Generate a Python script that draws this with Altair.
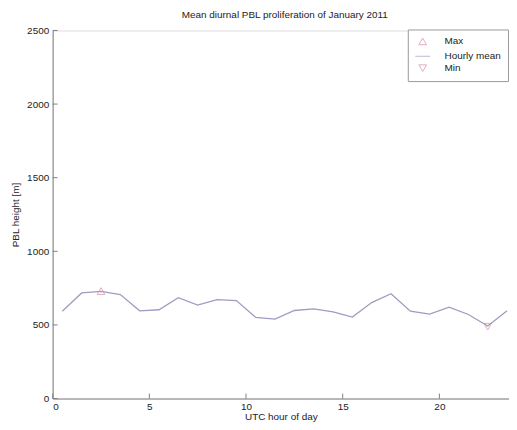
import altair as alt
import pandas as pd

hours = [0.5, 1.5, 2.5, 3.5, 4.5, 5.5, 6.5, 7.5, 8.5, 9.5, 10.5, 11.5,
         12.5, 13.5, 14.5, 15.5, 16.5, 17.5, 18.5, 19.5, 20.5, 21.5, 22.5, 23.5]
pbl = [593, 717, 728, 706, 596, 603, 685, 634, 672, 665, 551, 540,
       598, 609, 589, 553, 652, 712, 593, 573, 620, 571, 493, 596]
series = ["Max", "Hourly mean", "Min"]
max_hour, max_val = 2.5, 730
min_hour, min_val = 22.5, 488
xticks = [0, 5, 10, 15, 20]
yticks = [0, 500, 1000, 1500, 2000, 2500]

W, H = 460, 371
FONT = "Liberation Sans"
LINE_C = "#9d9dc2"
MARK_C = "#d98a9b"
AX_C = "#7f7f7f"

df = pd.DataFrame({"hour": hours, "pbl": pbl})
ext = pd.DataFrame({"hour": [max_hour, min_hour], "pbl": [max_val, min_val],
                    "series": ["Max", "Min"]})

xscale = alt.Scale(domain=[0, 23.6], nice=False)
yscale = alt.Scale(domain=[0, 2500], nice=False)

xax = alt.Axis(values=xticks, tickSize=0, labelPadding=3, grid=False, format="d",
               domainColor=AX_C, labelColor="#222", titleColor="#222",
               labelFontSize=10, titleFontSize=10, labelFont=FONT, titleFont=FONT,
               titleFontWeight="normal", titlePadding=0, title="UTC hour of day")
yax = alt.Axis(values=yticks, tickSize=0, labelPadding=4, grid=False, format="d",
               domainColor=AX_C, labelColor="#222", titleColor="#222",
               labelFontSize=10, titleFontSize=10, labelFont=FONT, titleFont=FONT,
               titleFontWeight="normal", titlePadding=6, title="PBL height [m]")

line = alt.Chart(df).mark_line(color=LINE_C, strokeWidth=1.3).encode(
    x=alt.X("hour:Q", scale=xscale, axis=xax),
    y=alt.Y("pbl:Q", scale=yscale, axis=yax),
)

leg = alt.Legend(title=None, orient="none", legendX=358, legendY=-1,
                 strokeColor="#9a9a9a", fillColor="white", padding=7,
                 labelFont=FONT, labelFontSize=10, labelColor="#222",
                 rowPadding=1, symbolStrokeWidth=1, labelOffset=14)

pts = alt.Chart(ext).mark_point(filled=False, strokeWidth=1).encode(
    x=alt.X("hour:Q", scale=xscale),
    y=alt.Y("pbl:Q", scale=yscale),
    shape=alt.Shape("series:N", scale=alt.Scale(domain=series,
                    range=["triangle-up", "stroke", "triangle-down"]), legend=leg),
    color=alt.Color("series:N", scale=alt.Scale(domain=series,
                    range=[MARK_C, LINE_C, MARK_C]), legend=leg),
    size=alt.Size("series:N", scale=alt.Scale(type="ordinal", domain=series,
                  range=[60, 225, 60]), legend=leg),
)

ytk = alt.Chart(pd.DataFrame({"v": yticks})).mark_rule(color=AX_C).encode(
    y=alt.Y("v:Q", scale=yscale), x=alt.value(0), x2=alt.value(5))
xtk = alt.Chart(pd.DataFrame({"v": xticks})).mark_rule(color=AX_C).encode(
    x=alt.X("v:Q", scale=xscale), y=alt.value(H), y2=alt.value(H - 5))

chart = alt.layer(line, pts, ytk, xtk).properties(
    width=W, height=H,
    title=alt.Title("Mean diurnal PBL proliferation of January 2011",
                    fontSize=10, fontWeight="normal", font=FONT, color="#222",
                    offset=6, dx=4),
    autosize=alt.AutoSizeParams(type="none"),
    padding={"left": 45, "top": 21, "right": 0, "bottom": 22},
).configure_view(stroke=None).configure(background="white")

chart.save("out.html", embed_options={"renderer": "svg", "actions": False})
